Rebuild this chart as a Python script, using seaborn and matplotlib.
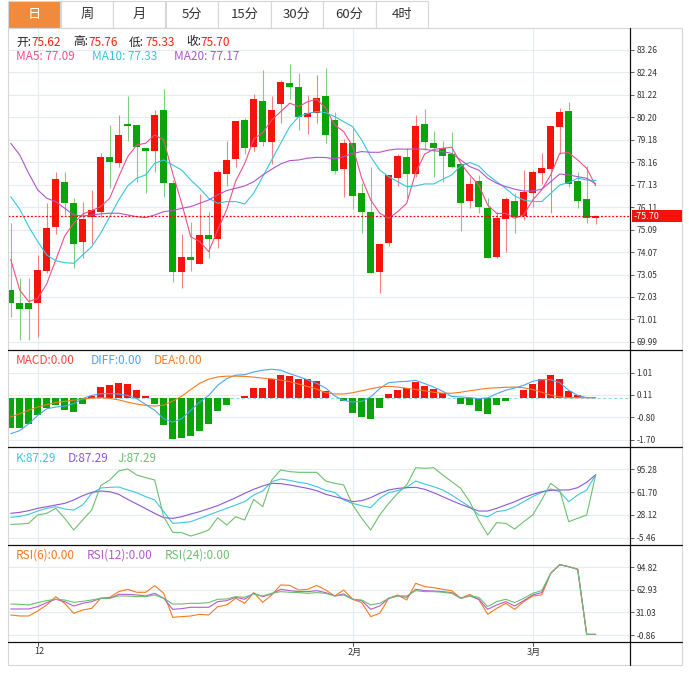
import numpy as np
import pandas as pd
import matplotlib
matplotlib.use("Agg")
import matplotlib.pyplot as plt
from matplotlib.lines import Line2D
from matplotlib.patches import Rectangle
import seaborn as sns

# 日K数据
opens = [72.35, 71.74, 71.74, 71.74, 73.23, 75.23, 77.27, 76.29, 74.55, 75.65,
         75.91, 78.38, 78.14, 79.90, 79.85, 78.79, 78.68, 80.53, 77.20, 73.18,
         73.84, 73.53, 74.85, 74.67, 77.62, 78.29, 80.08, 78.84, 80.96, 79.09,
         80.82, 81.74, 81.56, 80.20, 80.38, 81.17, 80.08, 77.84, 79.05, 76.74,
         75.91, 73.18, 74.50, 77.43, 78.41, 77.62, 79.90, 79.02, 78.79, 78.52,
         78.08, 76.40, 77.30, 76.06, 73.87, 75.56, 76.40, 75.71, 76.77, 77.68,
         77.84, 79.78, 80.49, 77.30, 76.49, 75.62]
highs = [75.38, 72.88, 72.88, 73.94, 76.32, 77.70, 77.70, 76.52, 76.37, 76.90,
         78.56, 79.85, 80.31, 81.17, 79.85, 78.79, 80.53, 81.47, 77.35, 74.90,
         75.46, 76.71, 75.90, 77.80, 79.12, 80.03, 80.18, 81.24, 82.35, 81.17,
         81.90, 82.62, 82.20, 81.21, 82.12, 82.46, 80.46, 79.21, 79.70, 77.20,
         77.96, 74.50, 77.58, 78.52, 78.79, 80.31, 80.58, 79.58, 79.12, 79.52,
         78.08, 77.50, 77.58, 76.52, 75.91, 76.59, 76.77, 77.80, 77.80, 78.59,
         79.81, 80.61, 80.91, 77.70, 78.00, 75.76]
lows = [71.11, 70.08, 70.08, 70.23, 73.10, 74.90, 75.76, 73.34, 73.79, 74.44,
        75.68, 77.00, 77.96, 79.12, 77.27, 76.77, 77.73, 76.59, 72.73, 72.46,
        73.23, 73.53, 73.82, 74.28, 77.08, 77.96, 78.52, 78.68, 78.90, 78.08,
        79.93, 81.03, 79.62, 79.44, 79.93, 79.05, 77.62, 76.56, 76.03, 74.96,
        73.11, 72.23, 74.35, 77.08, 76.52, 77.47, 78.71, 77.47, 77.24, 77.91,
        75.05, 76.06, 75.86, 73.79, 73.79, 74.06, 74.96, 75.53, 76.14, 77.17,
        75.84, 78.52, 77.05, 76.09, 75.41, 75.33]
closes = [71.74, 71.50, 71.50, 73.26, 75.15, 77.38, 76.32, 74.43, 75.56, 75.99,
          78.38, 78.18, 79.40, 79.82, 78.84, 78.68, 80.31, 77.20, 73.15, 73.86,
          73.71, 74.85, 74.67, 77.70, 78.26, 80.03, 78.82, 81.03, 79.09, 80.53,
          81.79, 81.59, 80.23, 80.41, 81.06, 79.39, 77.77, 79.02, 76.64, 75.91,
          73.14, 74.44, 77.58, 78.46, 77.61, 79.81, 79.09, 78.79, 78.46, 77.96,
          76.32, 77.15, 76.14, 73.82, 75.61, 76.47, 75.68, 76.82, 77.70, 77.88,
          79.81, 80.46, 77.15, 76.41, 75.61, 75.70]

ma5 = [73.74, 72.35, 71.82, 71.97, 72.62, 73.71, 74.80, 75.38, 75.80, 75.96,
       76.14, 76.52, 77.50, 78.41, 78.94, 79.02, 79.40, 79.17, 77.65, 76.29,
       74.77, 74.55, 74.09, 75.08, 76.00, 77.30, 78.10, 79.20, 79.50, 80.08,
       80.46, 80.84, 80.69, 80.91, 81.02, 80.61, 79.85, 79.55, 78.87, 77.43,
       76.44, 75.84, 75.61, 75.91, 76.29, 77.70, 78.53, 78.74, 78.79, 78.84,
       78.11, 77.58, 77.12, 76.21, 75.83, 75.83, 75.61, 75.76, 76.44, 76.90,
       77.58, 78.56, 78.59, 78.26, 77.88, 77.09]
ma10 = [76.59, 76.02, 75.23, 74.55, 73.94, 73.68, 73.59, 73.56, 73.94, 74.32,
        74.93, 75.68, 76.44, 77.08, 77.43, 77.58, 78.11, 78.26, 78.03, 77.80,
        77.35, 76.97, 76.52, 76.29, 76.37, 76.37, 76.26, 76.75, 77.50, 78.26,
        79.02, 79.77, 80.23, 80.38, 80.46, 80.41, 80.23, 80.00, 79.77, 79.17,
        78.41, 77.80, 77.50, 77.27, 77.05, 77.08, 77.17, 77.17, 77.38, 77.58,
        77.99, 78.14, 77.99, 77.58, 77.27, 76.97, 76.62, 76.44, 76.37, 76.37,
        76.74, 77.12, 77.23, 77.43, 77.35, 77.33]
ma20 = [79.02, 78.49, 77.65, 76.90, 76.52, 76.37, 76.06, 75.76, 75.71, 75.76,
        75.81, 75.84, 75.84, 75.76, 75.68, 75.64, 75.76, 75.91, 75.96, 76.06,
        76.14, 76.29, 76.44, 76.67, 76.87, 76.97, 77.08, 77.27, 77.58, 77.84,
        78.08, 78.23, 78.26, 78.34, 78.38, 78.37, 78.31, 78.41, 78.56, 78.64,
        78.61, 78.61, 78.71, 78.76, 78.75, 78.76, 78.75, 78.68, 78.64, 78.56,
        78.26, 77.96, 77.80, 77.43, 77.20, 77.05, 76.93, 76.85, 76.85, 76.93,
        77.27, 77.62, 77.58, 77.50, 77.43, 77.17]

macd_hist = [-1.23, -1.23, -1.08, -0.72, -0.42, -0.28, -0.49, -0.58, -0.24, 0.05,
             0.42, 0.50, 0.61, 0.54, 0.30, 0.05, -0.27, -1.12, -1.66, -1.64,
             -1.57, -1.34, -1.07, -0.54, -0.31, -0.02, 0.05, 0.38, 0.38, 0.74,
             0.93, 0.87, 0.74, 0.74, 0.66, 0.26, 0.00, -0.15, -0.61, -0.80,
             -0.88, -0.41, 0.14, 0.30, 0.39, 0.64, 0.47, 0.37, 0.20, 0.00,
             -0.27, -0.31, -0.55, -0.66, -0.31, -0.14, 0.00, 0.30, 0.57, 0.74,
             0.93, 0.74, 0.26, 0.09, 0.00, 0.00]
diff = [-1.46, -1.33, -1.06, -0.72, -0.45, -0.38, -0.34, -0.24, -0.04, 0.09,
        0.16, 0.16, 0.15, 0.09, -0.04, -0.28, -0.51, -0.85, -0.99, -0.85,
        -0.51, -0.18, 0.09, 0.50, 0.77, 0.91, 0.93, 1.04, 1.11, 1.15,
        1.11, 0.97, 0.85, 0.72, 0.58, 0.39, 0.07, -0.11, -0.18, -0.15,
        0.03, 0.37, 0.61, 0.64, 0.66, 0.70, 0.57, 0.43, 0.26, 0.05,
        0.03, 0.00, -0.04, -0.01, 0.16, 0.30, 0.39, 0.50, 0.66, 0.73,
        0.73, 0.61, 0.30, 0.09, 0.00, 0.00]
dea = [-0.78, -0.65, -0.51, -0.38, -0.28, -0.20, -0.15, -0.10, -0.06, -0.02,
       0.00, -0.03, -0.09, -0.18, -0.26, -0.31, -0.34, -0.30, -0.14, 0.06,
       0.33, 0.58, 0.75, 0.84, 0.87, 0.87, 0.86, 0.83, 0.79, 0.76,
       0.71, 0.65, 0.55, 0.45, 0.35, 0.20, 0.15, 0.15, 0.20, 0.28,
       0.36, 0.43, 0.46, 0.43, 0.38, 0.33, 0.28, 0.22, 0.18, 0.18,
       0.22, 0.28, 0.33, 0.38, 0.40, 0.42, 0.43, 0.40, 0.33, 0.22,
       0.10, 0.03, 0.00, 0.00, 0.00, 0.00]

k_vals = [24.5, 26.0, 28.9, 33.8, 37.8, 40.2, 36.8, 35.3, 42.7, 59.9,
          67.7, 68.7, 69.2, 64.8, 60.8, 55.0, 50.1, 32.9, 15.7, 16.7,
          18.1, 23.1, 28.0, 32.9, 37.8, 42.7, 47.6, 57.4, 63.3, 77.1,
          81.0, 79.0, 76.1, 74.1, 69.7, 64.3, 61.3, 50.1, 45.1, 41.7,
          38.8, 52.5, 60.8, 63.8, 68.7, 78.0, 73.6, 69.7, 64.8, 57.4,
          48.6, 40.2, 28.0, 25.5, 32.9, 34.8, 40.2, 47.6, 55.0, 61.3,
          66.3, 62.3, 47.6, 57.4, 64.8, 87.29]
d_vals = [30.4, 31.9, 34.3, 37.8, 40.2, 42.7, 45.1, 50.1, 56.4, 61.3,
          63.3, 62.3, 58.4, 51.0, 44.2, 37.3, 30.4, 24.0, 23.0, 25.5,
          29.4, 32.9, 37.3, 41.7, 47.6, 53.5, 59.9, 65.8, 70.7, 74.6,
          74.1, 72.2, 69.7, 67.2, 63.8, 58.4, 55.0, 51.5, 47.6, 49.1,
          53.5, 59.9, 64.8, 67.2, 68.2, 68.7, 65.8, 60.8, 55.0, 49.1,
          43.7, 38.8, 33.8, 33.8, 37.8, 42.7, 47.6, 53.5, 58.4, 62.3,
          64.3, 64.8, 64.8, 68.2, 76.1, 87.29]
j_vals = [14.2, 14.7, 15.7, 28.0, 30.4, 37.8, 23.1, 5.9, 20.6, 35.3,
          71.2, 79.5, 92.8, 95.7, 86.9, 83.0, 79.5, 25.5, 2.4, 1.9,
          -3.0, 1.0, 5.9, 24.0, 13.2, 25.5, 20.6, 51.0, 40.2, 79.5,
          94.3, 91.8, 90.8, 90.8, 90.8, 78.0, 74.6, 72.2, 42.7, 23.1,
          5.9, 28.0, 45.1, 59.9, 72.2, 97.7, 96.7, 97.7, 86.9, 77.1,
          67.2, 47.6, 20.6, -1.5, 16.7, 15.7, 7.3, 18.1, 28.0, 50.1,
          74.6, 64.8, 18.1, 23.1, 28.0, 87.29]

rsi6 = [27.4, 26.0, 26.0, 33.1, 41.6, 53.3, 43.9, 29.8, 34.5, 36.8,
        51.0, 52.4, 60.4, 63.7, 59.5, 59.5, 68.9, 58.0, 24.1, 25.1,
        26.0, 28.4, 27.4, 39.2, 41.6, 51.0, 43.9, 59.0, 45.3, 55.7,
        69.8, 69.3, 62.7, 63.7, 69.3, 62.7, 54.3, 62.7, 49.6, 44.9,
        25.1, 29.8, 51.0, 55.7, 48.6, 72.2, 67.5, 66.0, 63.7, 61.8,
        51.0, 56.6, 49.6, 28.4, 36.8, 43.9, 35.4, 46.3, 54.3, 55.7,
        86.3, 98.5, 95.7, 92.0, 0.0, 0.0]
rsi12 = [35.9, 35.9, 35.9, 39.2, 44.9, 49.6, 46.3, 40.1, 43.9, 46.3,
         51.0, 51.0, 56.6, 56.6, 55.7, 54.3, 58.0, 51.0, 35.4, 36.4,
         38.3, 38.3, 38.3, 46.3, 47.7, 52.4, 49.6, 58.0, 53.3, 57.1,
         63.7, 61.8, 60.4, 60.4, 61.8, 59.0, 54.3, 57.1, 49.6, 47.7,
         35.4, 40.1, 51.0, 54.3, 52.4, 63.7, 61.8, 61.3, 60.4, 59.0,
         51.0, 54.3, 49.6, 35.4, 41.6, 46.3, 40.1, 47.7, 55.7, 59.0,
         86.3, 98.5, 95.7, 92.0, 0.0, 0.0]
rsi24 = [42.9, 42.5, 41.6, 44.9, 47.7, 49.6, 48.6, 45.3, 46.7, 48.6,
         51.0, 51.0, 54.3, 54.3, 53.3, 53.3, 55.7, 51.0, 42.9, 42.9,
         43.9, 43.9, 44.9, 49.6, 50.0, 53.3, 52.4, 57.1, 54.3, 58.0,
         60.4, 59.5, 59.0, 58.0, 59.0, 58.0, 54.3, 55.7, 49.6, 48.6,
         41.6, 43.9, 51.0, 54.3, 54.3, 61.8, 60.4, 60.4, 59.5, 58.0,
         51.0, 54.3, 52.4, 39.2, 46.3, 49.6, 44.9, 51.0, 58.0, 61.8,
         86.3, 98.5, 95.7, 92.0, 0.0, 0.0]

tabs = ['日', '周', '月', '5分', '15分', '30分', '60分', '4时']
month_labels = ['12', '2月', '3月']
month_idx = [3, 38, 58]

price_ticks = [83.26, 82.24, 81.22, 80.20, 79.18, 78.16, 77.13, 76.11, 75.09,
               74.07, 73.05, 72.03, 71.01, 69.99]
macd_ticks = [1.01, 0.11, -0.80, -1.70]
kdj_ticks = [95.28, 61.70, 28.12, -5.46]
rsi_ticks = [94.82, 62.93, 31.03, -0.86]
last_price = 75.70

# 颜色
RED, GREEN = '#f5140a', '#0aa30a'
RED_WICK, GREEN_WICK = '#f48282', '#82cc82'
GRID = '#e4ebf1'
TXT = '#333333'

W, H = 689, 680

sns.set_style('white')
plt.rcParams['font.family'] = ['Noto Sans CJK SC', 'DejaVu Sans']

df = pd.DataFrame({
    'open': opens, 'high': highs, 'low': lows, 'close': closes,
    'ma5': ma5, 'ma10': ma10, 'ma20': ma20,
    'hist': macd_hist, 'diff': diff, 'dea': dea,
    'k': k_vals, 'd': d_vals, 'j': j_vals,
    'rsi6': rsi6, 'rsi12': rsi12, 'rsi24': rsi24,
})
df['i'] = np.arange(len(df))

fig = plt.figure(figsize=(W / 100, H / 100), dpi=100)
fig.patch.set_facecolor('white')


def box(l, t, r, b):
    return [l / W, 1 - b / H, (r - l) / W, (b - t) / H]


def hline(y, x0, x1, color, lw=0.8):
    fig.add_artist(Line2D([x0 / W, x1 / W], [1 - y / H, 1 - y / H], color=color, lw=lw))


def vline(x, y0, y1, color, lw=0.8):
    fig.add_artist(Line2D([x / W, x / W], [1 - y0 / H, 1 - y1 / H], color=color, lw=lw))


def label(x, y, s, color, size=9, ha='left'):
    fig.text(x / W, 1 - y / H, s, color=color, fontsize=size, va='center', ha=ha)


XMIN, XMAX = (8 - 10.7) / 9, (630 - 10.7) / 9


def setup(ax, ylo, yhi, ticks):
    ax.set_xlim(XMIN, XMAX)
    ax.set_ylim(ylo, yhi)
    ax.set_facecolor('none')
    for s in ax.spines.values():
        s.set_visible(False)
    ax.set_xticks([])
    ax.set_yticks(ticks)
    ax.set_yticklabels([f'{t:.2f}' for t in ticks])
    ax.yaxis.tick_right()
    ax.tick_params(axis='y', right=True, left=False, length=3, width=0.6,
                   color='#444444', labelsize=6, labelcolor=TXT, pad=1.5)
    ax.grid(False)
    for t in ticks:
        ax.axhline(t, color=GRID, lw=0.8, zorder=0)
    for i in month_idx:
        ax.axvline(i, color=GRID, lw=0.8, zorder=0)


def clean(ax):
    ax.set_xlabel('')
    ax.set_ylabel('')


# ---- 主图：K线 + 均线 ----
ax = fig.add_axes(box(8, 28, 630, 350))
setup(ax, 69.62, 84.26, price_ticks)
up = df['close'] >= df['open']
ax.vlines(df['i'], df['low'], df['high'], colors=np.where(up, RED_WICK, GREEN_WICK), lw=0.8, zorder=2)
body_lo = np.minimum(df['open'], df['close'])
body_h = np.maximum((df['close'] - df['open']).abs(), 0.06)
ax.bar(df['i'], body_h, bottom=body_lo, width=0.72, color=np.where(up, RED, GREEN), linewidth=0, zorder=3)
sns.lineplot(data=df, x='i', y='ma5', ax=ax, color='#ee4f8a', lw=0.8, zorder=4)
sns.lineplot(data=df, x='i', y='ma10', ax=ax, color='#33c6dc', lw=0.8, zorder=4)
sns.lineplot(data=df, x='i', y='ma20', ax=ax, color='#b055c8', lw=0.8, zorder=4)
ax.axhline(last_price, color='#ff0000', lw=0.9, ls=(0, (1.5, 1.5)), zorder=5)
clean(ax)

# ---- MACD ----
ax = fig.add_axes(box(8, 350, 630, 447))
setup(ax, -1.995, 1.928, macd_ticks)
ax.axhline(0, color='#9ad6e6', lw=0.8, ls=(0, (3, 2)), zorder=1)
ax.bar(df['i'], df['hist'], width=0.72, color=np.where(df['hist'] >= 0, RED, GREEN), linewidth=0, zorder=2)
sns.lineplot(data=df, x='i', y='diff', ax=ax, color='#4aa6f0', lw=0.8, zorder=3)
sns.lineplot(data=df, x='i', y='dea', ax=ax, color='#f57a1e', lw=0.8, zorder=3)
clean(ax)

# ---- KDJ ----
ax = fig.add_axes(box(8, 447, 630, 545))
setup(ax, -16.21, 128.1, kdj_ticks)
sns.lineplot(data=df, x='i', y='k', ax=ax, color='#3ec6de', lw=0.8)
sns.lineplot(data=df, x='i', y='d', ax=ax, color='#8a58d6', lw=0.8)
sns.lineplot(data=df, x='i', y='j', ax=ax, color='#6cc06c', lw=0.8)
clean(ax)

# ---- RSI ----
ax = fig.add_axes(box(8, 545, 630, 642))
setup(ax, -10.75, 126.3, rsi_ticks)
sns.lineplot(data=df, x='i', y='rsi6', ax=ax, color='#f57a1e', lw=0.8)
sns.lineplot(data=df, x='i', y='rsi12', ax=ax, color='#b25ccc', lw=0.8)
sns.lineplot(data=df, x='i', y='rsi24', ax=ax, color='#6cbf6c', lw=0.8)
clean(ax)

# ---- 边框与分隔线 ----
BORDER = '#d6d6d6'
hline(28, 8, 682, BORDER)
hline(665, 8, 682, BORDER)
vline(8, 28, 665, BORDER)
vline(682, 28, 665, BORDER)
for y in [350, 447, 545, 642]:
    hline(y, 8, 682, '#111111', lw=0.9)
vline(630, 28, 665, '#111111', lw=0.9)

# ---- 顶部周期标签 ----
tab_w = 52.5
for n, name in enumerate(tabs):
    x0 = 8 + n * tab_w
    fig.add_artist(Rectangle((x0 / W, 1 - 28 / H), tab_w / W, 27 / H, transform=fig.transFigure,
                             facecolor='#f08a3c' if n == 0 else 'white', edgecolor=BORDER, lw=0.8))
    label(x0 + tab_w / 2, 14.5, name, 'white' if n == 0 else TXT, size=9.5, ha='center')

# ---- 图例文字 ----
PRICE_RED = '#f5200f'
for x_key, x_val, key, val in [(16, 31, '开:', '75.62'), (73, 88, '高:', '75.76'),
                               (129, 145, '低:', '75.33'), (186, 200, '收:', '75.70')]:
    label(x_key, 42, key, '#222222', size=8.5)
    label(x_val, 42, val, PRICE_RED, size=8.5)
label(16, 56, 'MA5: 77.09', '#ee4f8a', size=8.5)
label(92, 56, 'MA10: 77.33', '#33c6dc', size=8.5)
label(174, 56, 'MA20: 77.17', '#b055c8', size=8.5)

label(16, 360, 'MACD:0.00', '#f0473e', size=8.5)
label(91, 360, 'DIFF:0.00', '#4aa6f0', size=8.5)
label(154, 360, 'DEA:0.00', '#f57a1e', size=8.5)

label(16, 458, 'K:87.29', '#3ec6de', size=8.5)
label(68, 458, 'D:87.29', '#8a58d6', size=8.5)
label(118, 458, 'J:87.29', '#6cc06c', size=8.5)

label(16, 555, 'RSI(6):0.00', '#f57a1e', size=8.5)
label(87, 555, 'RSI(12):0.00', '#b25ccc', size=8.5)
label(165, 555, 'RSI(24):0.00', '#6cbf6c', size=8.5)

# ---- 最新价标签 ----
fig.add_artist(Rectangle((632 / W, 1 - 222 / H), 50 / W, 12 / H, transform=fig.transFigure,
                         facecolor='#f5120a', edgecolor='none', zorder=10))
fig.text(634 / W, 1 - 216.3 / H, f'-{last_price:.2f}', color='white', fontsize=6.5,
         va='center', ha='left', zorder=11)

# ---- 时间轴 ----
for i, s in zip(month_idx, month_labels):
    px = 10.7 + 9 * i
    vline(px, 642, 646, '#333333', lw=0.6)
    label(px + 1.5, 652, s, TXT, size=6.5, ha='center')

fig.savefig('out.png', dpi=100, facecolor='white')
